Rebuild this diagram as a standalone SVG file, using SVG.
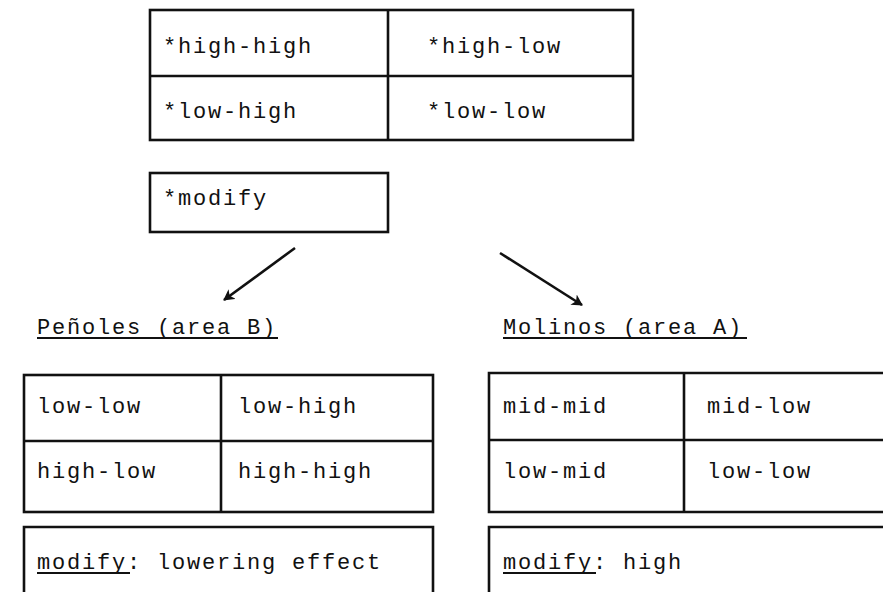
<svg xmlns="http://www.w3.org/2000/svg" width="883" height="592" viewBox="0 0 883 592">
<defs>
<style>
.t{font-family:"Liberation Mono","Courier New",monospace;font-size:22px;letter-spacing:1.8px;fill:#111}
.b{fill:none;stroke:#111;stroke-width:2.6}
.u{stroke:#111;stroke-width:1.8}
.c{stroke:#111;stroke-width:2.6;fill:none}
</style>
<marker id="ah" viewBox="0 0 12 12" refX="10" refY="6" markerWidth="12" markerHeight="12" markerUnits="userSpaceOnUse" orient="auto">
<path d="M0,0 L11,6 L0,12 L3,6 Z" fill="#111"/>
</marker>
</defs>
<rect width="883" height="592" fill="#fff"/>
<g id="top-table">
<rect class="b" x="150" y="10" width="483" height="130"/>
<line class="b" x1="388" y1="10" x2="388" y2="140"/>
<line class="b" x1="150" y1="76" x2="633" y2="76"/>
<text class="t" x="163" y="53">*high-high</text>
<text class="t" x="427" y="53">*high-low</text>
<text class="t" x="163" y="118">*low-high</text>
<text class="t" x="427" y="118">*low-low</text>
</g>
<g id="modify-box">
<rect class="b" x="150" y="173" width="238" height="59"/>
<text class="t" x="163" y="205">*modify</text>
</g>
<g id="connectors">
<line class="c" x1="295" y1="248" x2="224" y2="300" marker-end="url(#ah)"/>
<line class="c" x1="500" y1="253" x2="582" y2="305" marker-end="url(#ah)"/>
</g>
<g id="penoles-label">
<text class="t" x="37" y="334">Peñoles (area B)</text>
<line class="u" x1="37" y1="338" x2="278" y2="338"/>
</g>
<g id="molinos-label">
<text class="t" x="503" y="334">Molinos (area A)</text>
<line class="u" x1="503" y1="338" x2="747" y2="338"/>
</g>
<g id="penoles-table">
<rect class="b" x="24" y="375" width="409" height="137"/>
<line class="b" x1="221" y1="375" x2="221" y2="512"/>
<line class="b" x1="24" y1="441" x2="433" y2="441"/>
<text class="t" x="37" y="413">low-low</text>
<text class="t" x="238" y="413">low-high</text>
<text class="t" x="37" y="478">high-low</text>
<text class="t" x="238" y="478">high-high</text>
</g>
<g id="molinos-table">
<path class="b" d="M883,373 L489,373 L489,512 L883,512"/>
<line class="b" x1="684" y1="373" x2="684" y2="512"/>
<line class="b" x1="489" y1="440" x2="883" y2="440"/>
<text class="t" x="503" y="413">mid-mid</text>
<text class="t" x="707" y="413">mid-low</text>
<text class="t" x="503" y="478">low-mid</text>
<text class="t" x="707" y="478">low-low</text>
</g>
<g id="penoles-modify">
<path class="b" d="M24,600 L24,527 L433,527 L433,600"/>
<text class="t" x="37" y="569">modify: lowering effect</text>
<line class="u" x1="37" y1="573" x2="130" y2="573"/>
</g>
<g id="molinos-modify">
<path class="b" d="M489,600 L489,527 L883,527"/>
<text class="t" x="503" y="569">modify: high</text>
<line class="u" x1="503" y1="573" x2="596" y2="573"/>
</g>
</svg>
